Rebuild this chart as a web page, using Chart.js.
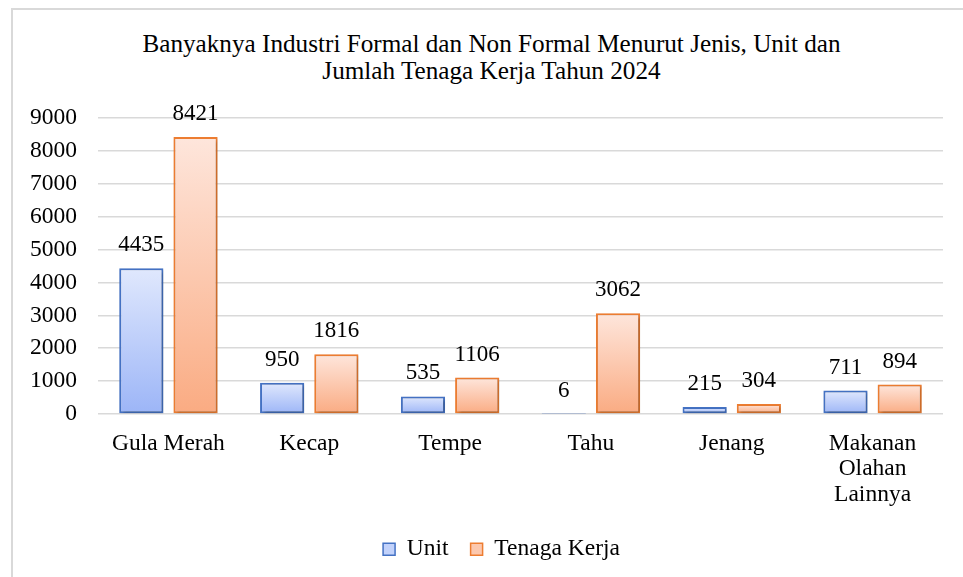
<!DOCTYPE html>
<html>
<head>
<meta charset="utf-8">
<script src="https://cdn.jsdelivr.net/npm/chart.js@4.4.1/dist/chart.umd.min.js"></script>
<style>
  html, body { margin: 0; padding: 0; background: #fff; width: 963px; height: 577px; overflow: hidden; }
  #frame { position: absolute; left: 11px; top: 8px; width: 1000px; height: 700px; border: 2px solid #d9d9d9; box-sizing: border-box; }
  #title { position: absolute; left: 0; width: 983px; top: 30px; text-align: center;
           font-family: 'Liberation Serif', 'Times New Roman', serif; font-size: 25.2px; line-height: 27px; color: #000; }
  #c { position: absolute; left: 0; top: 0; }
</style>
</head>
<body>
<div id="frame"></div>
<div id="title">Banyaknya Industri Formal dan Non Formal Menurut Jenis, Unit dan<br>Jumlah Tenaga Kerja Tahun 2024</div>
<canvas id="c" width="963" height="577"></canvas>
<script>
const categories = ['Gula Merah', 'Kecap', 'Tempe', 'Tahu', 'Jenang', ['Makanan', 'Olahan', 'Lainnya']];
const seriesNames = ['Unit', 'Tenaga Kerja'];
const unitValues = [4435, 950, 535, 6, 215, 711];
const tenagaKerjaValues = [8421, 1816, 1106, 3062, 304, 894];
const yTicks = [0, 1000, 2000, 3000, 4000, 5000, 6000, 7000, 8000, 9000];

const FONT = "'Liberation Serif', 'Times New Roman', serif";

function makeGrad(top, bottom) {
  return (ctx) => {
    const chart = ctx.chart;
    if (!chart.chartArea || ctx.type !== 'data') return bottom;
    const ys = chart.scales.y;
    const yTop = ys.getPixelForValue(ctx.raw);
    const yBase = ys.getPixelForValue(0);
    if (!(yBase - yTop > 1)) return top;
    const g = chart.ctx.createLinearGradient(0, yTop, 0, yBase);
    g.addColorStop(0, top);
    g.addColorStop(1, bottom);
    return g;
  };
}

const barPlugin = {
  id: 'barDeco',
  beforeDatasetsDraw(chart) {
    const c = chart.ctx;
    c.save();
    c.shadowColor = 'rgba(0,0,0,0.28)';
    c.shadowBlur = 3;
    c.shadowOffsetX = 1.5;
    c.shadowOffsetY = 1.5;
  },
  afterDatasetsDraw(chart) {
    const c = chart.ctx;
    c.restore();
    c.save();
    c.font = '23px ' + FONT;
    c.fillStyle = '#000';
    c.textAlign = 'center';
    c.textBaseline = 'alphabetic';
    chart.data.datasets.forEach((ds, di) => {
      const meta = chart.getDatasetMeta(di);
      meta.data.forEach((el, i) => {
        c.fillText(String(ds.data[i]), el.x, el.y - 17);
      });
    });
    c.restore();
  }
};

new Chart(document.getElementById('c'), {
  type: 'bar',
  data: {
    labels: categories,
    datasets: [
      {
        label: seriesNames[0],
        data: unitValues,
        backgroundColor: makeGrad('#e0e8fd', '#9cb5f7'),
        borderColor: '#4472c4',
        borderWidth: 2,
        borderSkipped: false
      },
      {
        label: seriesNames[1],
        data: tenagaKerjaValues,
        backgroundColor: makeGrad('#fee6dc', '#faab82'),
        borderColor: '#ed7d31',
        borderWidth: 2,
        borderSkipped: false
      }
    ]
  },
  options: {
    responsive: false,
    animation: false,
    devicePixelRatio: 1,
    categoryPercentage: 0.77,
    barPercentage: 0.815,
    layout: { padding: { left: 60, right: 20, top: 118, bottom: 6 } },
    plugins: {
      title: { display: false },
      tooltip: { enabled: false },
      legend: {
        position: 'bottom',
        labels: {
          font: { family: FONT, size: 23.5 },
          color: '#000',
          boxWidth: 12,
          boxHeight: 12,
          padding: 22,
          generateLabels(chart) {
            const fills = ['#c2d2fb', '#fcc8ae'];
            const strokes = ['#4472c4', '#ed7d31'];
            return chart.data.datasets.map((ds, i) => ({
              text: ds.label,
              fillStyle: fills[i],
              strokeStyle: strokes[i],
              lineWidth: 1.5,
              fontColor: '#000',
              datasetIndex: i,
              hidden: false
            }));
          }
        }
      }
    },
    scales: {
      x: {
        grid: { display: false, drawTicks: false },
        border: { display: false },
        ticks: {
          font: { family: FONT, size: 23.5, lineHeight: 1.07 },
          color: '#000',
          padding: 17.5,
          maxRotation: 0,
          autoSkip: false
        },
        afterFit(s) { s.height = 101.5; }
      },
      y: {
        min: 0,
        max: 9000,
        afterBuildTicks(s) { s.ticks = yTicks.map(v => ({ value: v })); },
        grid: { color: '#d9d9d9', lineWidth: 1.5, drawTicks: false },
        border: { display: false },
        ticks: {
          font: { family: FONT, size: 23.5 },
          color: '#000',
          padding: 21,
          callback: (v) => String(v)
        },
        afterFit(s) {
          s.width = 38;
          s._computeLabelArea = () => undefined;
        }
      }
    }
  },
  plugins: [barPlugin]
});
</script>
</body>
</html>
